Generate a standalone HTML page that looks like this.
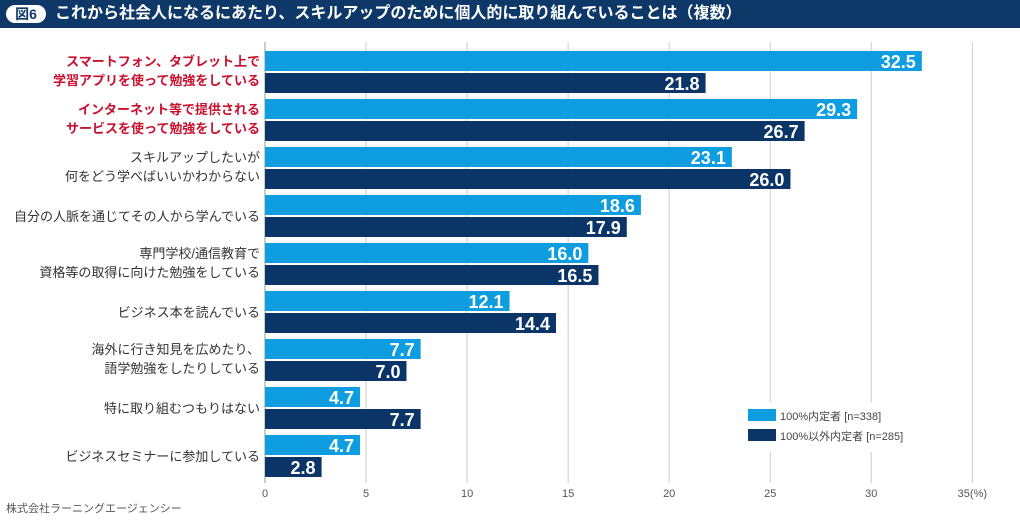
<!DOCTYPE html>
<html><head><meta charset="utf-8">
<style>
body{margin:0;width:1020px;height:522px;background:#fff;overflow:hidden;font-family:"Liberation Sans","Noto Sans CJK JP",sans-serif}
#title{position:absolute;left:0;top:0;width:1020px;height:28px;background:#0d3868;color:#fff;font-size:16px;line-height:28px;font-weight:bold}
#badge{position:absolute;left:6px;top:5px;width:40px;height:18px;border-radius:9px;background:#fff;color:#0d3868;font-size:14px;line-height:18px;text-align:center}
#ttext{position:absolute;left:55px;top:0}
#src{position:absolute;left:6px;top:500px;font-size:11px;color:#555}
</style></head><body>
<div id="title"><div id="badge">図6</div><span id="ttext">これから社会人になるにあたり、スキルアップのために個人的に取り組んでいることは（複数）</span></div>
<svg id="chart" width="1020" height="522" style="position:absolute;left:0;top:0"></svg>
<div id="src">株式会社ラーニングエージェンシー</div>
<script>
const categories=[["スマートフォン、タブレット上で","学習アプリを使って勉強をしている"],["インターネット等で提供される","サービスを使って勉強をしている"],["スキルアップしたいが","何をどう学べばいいかわからない"],["自分の人脈を通じてその人から学んでいる"],["専門学校/通信教育で","資格等の取得に向けた勉強をしている"],["ビジネス本を読んでいる"],["海外に行き知見を広めたり、","語学勉強をしたりしている"],["特に取り組むつもりはない"],["ビジネスセミナーに参加している"]];
const highlighted=[true,true,false,false,false,false,false,false,false];
const series1=[32.5,29.3,23.1,18.6,16.0,12.1,7.7,4.7,4.7];
const series2=[21.8,26.7,26.0,17.9,16.5,14.4,7.0,7.7,2.8];
const ticks=[0,5,10,15,20,25,30,35];
const seriesNames=["100%内定者 [n=338]","100%以外内定者 [n=285]"];
const NS="http://www.w3.org/2000/svg";
const svg=document.getElementById('chart');
const x=v=>265+v*20.21;
const yg=i=>51+i*48;
function mk(t,a,txt){const e=document.createElementNS(NS,t);for(const k in a)e.setAttribute(k,a[k]);if(txt!==undefined)e.textContent=txt;svg.appendChild(e);return e;}
ticks.forEach((t,i)=>{
 if(i>0){const g=mk('line',{x1:x(t),x2:x(t),y1:42,y2:483,stroke:'#ccc','stroke-width':1});
 
 }
 const l=mk('text',{x:x(t),y:497,'font-size':11,fill:'#555','text-anchor':'middle'},t===35?'35(%)':String(t));
 
 
});
const ax=mk('line',{x1:265,x2:265,y1:42,y2:483,stroke:'#999','stroke-width':1});


categories.forEach((c,i)=>{
 const y=yg(i);
 const b1=mk('rect',{x:265,y:y,width:x(series1[i])-265,height:20,fill:'#0e9de0'});
 
 
 const b2=mk('rect',{x:265,y:y+22,width:x(series2[i])-265,height:20,fill:'#0b3566'});
 
 
 const v1=mk('text',{x:x(series1[i])-6,y:y+17,'font-size':18,'font-weight':'bold',fill:'#fff','text-anchor':'end'},series1[i].toFixed(1));
 
 
 const v2=mk('text',{x:x(series2[i])-6,y:y+39,'font-size':18,'font-weight':'bold',fill:'#fff','text-anchor':'end'},series2[i].toFixed(1));
 
 
 const col=highlighted[i]?'#c8102e':'#333', fw=highlighted[i]?'bold':'normal';
 c.forEach((line,j)=>{
  const yy=c.length===1?y+26:y+15+j*19;
  const t=mk('text',{x:260,y:yy,'font-size':13,fill:col,'font-weight':fw,'text-anchor':'end'},line);
  
  
 });
});
const bg=mk('rect',{x:740,y:402,width:190,height:50,fill:'#fff'});


['#0e9de0','#0b3566'].forEach((c,i)=>{
 const s=mk('rect',{x:748,y:409+i*20,width:28,height:12,fill:c});
 
 
 const t=mk('text',{x:780,y:420+i*20,'font-size':11,fill:'#444'},seriesNames[i]);
 
 
});
</script>
</body></html>
